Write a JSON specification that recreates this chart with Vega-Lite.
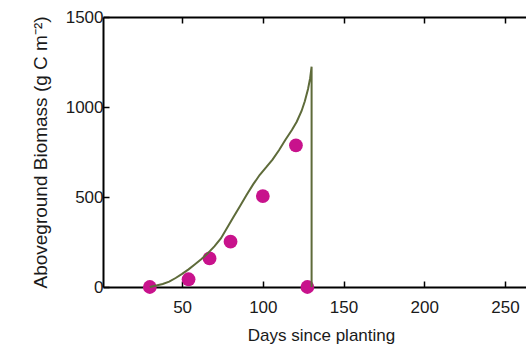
{
  "$schema": "https://vega.github.io/schema/vega-lite/v6.json",
  "width": 423,
  "height": 270,
  "autosize": "none",
  "padding": {"left": 103, "top": 17, "right": 0, "bottom": 60},
  "background": "white",
  "config": {
    "view": {"stroke": null},
    "axis": {
      "labelFont": "Liberation Sans",
      "titleFont": "Liberation Sans",
      "labelFontSize": 17,
      "titleFontSize": 17,
      "titleFontWeight": "normal",
      "labelColor": "#1a1a1a",
      "titleColor": "#1a1a1a",
      "domainColor": "black",
      "domainWidth": 2,
      "tickColor": "black",
      "tickWidth": 1.5,
      "tickSize": -6,
      "grid": false,
      "format": "d"
    }
  },
  "datasets": {
    "observed": [
      {"day": 30, "biomass": 0},
      {"day": 54, "biomass": 43},
      {"day": 67, "biomass": 159},
      {"day": 80, "biomass": 252},
      {"day": 100, "biomass": 505},
      {"day": 120.5, "biomass": 787},
      {"day": 127.6, "biomass": 0}
    ],
    "modelled": [
      {"step": 1, "day": 30, "biomass": 0},
      {"step": 2, "day": 34, "biomass": 8},
      {"step": 3, "day": 38, "biomass": 17},
      {"step": 4, "day": 42, "biomass": 30},
      {"step": 5, "day": 46, "biomass": 50},
      {"step": 6, "day": 50, "biomass": 73},
      {"step": 7, "day": 54, "biomass": 98},
      {"step": 8, "day": 58, "biomass": 126},
      {"step": 9, "day": 62, "biomass": 155},
      {"step": 10, "day": 66, "biomass": 188},
      {"step": 11, "day": 70, "biomass": 226},
      {"step": 12, "day": 74, "biomass": 270},
      {"step": 13, "day": 78, "biomass": 330},
      {"step": 14, "day": 82, "biomass": 392},
      {"step": 15, "day": 86, "biomass": 452},
      {"step": 16, "day": 90, "biomass": 512},
      {"step": 17, "day": 94, "biomass": 570},
      {"step": 18, "day": 98, "biomass": 622},
      {"step": 19, "day": 102, "biomass": 664},
      {"step": 20, "day": 106, "biomass": 708},
      {"step": 21, "day": 110, "biomass": 760},
      {"step": 22, "day": 114, "biomass": 818},
      {"step": 23, "day": 118, "biomass": 872},
      {"step": 24, "day": 121, "biomass": 918},
      {"step": 25, "day": 124, "biomass": 978},
      {"step": 26, "day": 126, "biomass": 1032},
      {"step": 27, "day": 128, "biomass": 1100},
      {"step": 28, "day": 129.3, "biomass": 1160},
      {"step": 29, "day": 130.2, "biomass": 1224},
      {"step": 30, "day": 130.2, "biomass": 0}
    ]
  },
  "layer": [
    {
      "data": {"name": "observed"},
      "mark": {"type": "circle", "size": 190, "opacity": 1, "color": "#c8128c"},
      "encoding": {
        "x": {
          "field": "day",
          "type": "quantitative",
          "scale": {"domain": [1, 263], "nice": false, "zero": false},
          "axis": {
            "orient": "bottom",
            "values": [50, 100, 150, 200, 250],
            "labelPadding": 18,
            "title": "Days since planting",
            "titlePadding": 12,
            "titleX": 218
          }
        },
        "y": {
          "field": "biomass",
          "type": "quantitative",
          "scale": {"domain": [0, 1500], "nice": false},
          "axis": {
            "values": [0, 500, 1000, 1500],
            "labelPadding": 6,
            "title": "Aboveground Biomass (g C m⁻²)",
            "titleFontSize": 19,
            "titlePadding": 15
          }
        }
      }
    },
    {
      "data": {"name": "modelled"},
      "mark": {"type": "line", "color": "#5e6b3a", "strokeWidth": 2},
      "encoding": {
        "x": {
          "field": "day",
          "type": "quantitative",
          "axis": {
            "orient": "top",
            "values": [50, 100, 150, 200, 250],
            "labels": false,
            "title": null
          }
        },
        "y": {"field": "biomass", "type": "quantitative"},
        "order": {"field": "step"}
      }
    }
  ],
  "resolve": {"axis": {"x": "independent"}}
}
